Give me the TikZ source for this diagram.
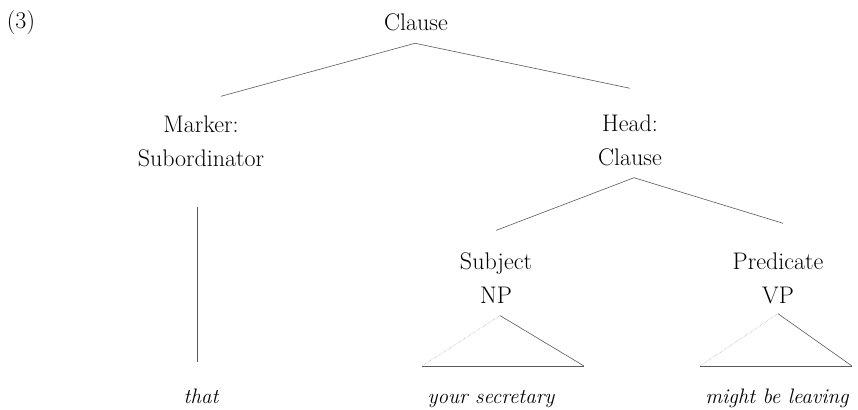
\documentclass[tikz,border=0pt]{standalone}
\usepackage{tikz}
\usetikzlibrary{positioning}

\begin{document}
\begin{tikzpicture}[x=1pt,y=-1pt,
  every node/.style={inner sep=0pt, align=center, font=\fontsize{24}{34}\selectfont},
  leaf/.style={anchor=base, font=\fontsize{21}{26}\selectfont\itshape},
  branch/.style={draw=black!65, line width=.6pt},
  faint/.style={draw=black!35, line width=.5pt, densely dotted}]
  \useasboundingbox (0,0) rectangle (858,409);

  \node (ex)        at (21,22.5)  {(3)};
  \node (top)       at (416,22.5) {Clause};
  \node (marker)    at (201,141)  {Marker:\\Subordinator};
  \node (head)      at (630,140)  {Head:\\Clause};
  \node (subject)   at (496,278)  {Subject\\NP};
  \node (predicate) at (778,278)  {Predicate\\VP};
  \node[leaf] (that)      at (201,403) {that};
  \node[leaf] (secretary) at (491,403) {your secretary};
  \node[leaf] (leaving)   at (777,403) {might be leaving};

  \path[branch]
   ([xshift=-1,yshift=-12]top.south) edge ([xshift=20,yshift=19]marker.north)
   ([xshift=-1,yshift=-12]top.south) edge ([yshift=26]head.north)
   ([xshift=-4,yshift=-40]marker.south) edge ([xshift=-4,yshift=41]that.base)
   ([xshift=4,yshift=-12]head.south) edge ([yshift=22]subject.north)
   ([xshift=4,yshift=-12]head.south) edge ([xshift=5,yshift=29]predicate.north)
   % triangles
   ([xshift=4,yshift=-12]subject.south) edge ([xshift=93,yshift=37]secretary.base)
   ([xshift=-69,yshift=37]secretary.base) edge ([xshift=93,yshift=37]secretary.base)
   ([yshift=-10]predicate.south) edge ([xshift=75,yshift=37]leaving.base)
   ([xshift=-77,yshift=37]leaving.base) edge ([xshift=75,yshift=37]leaving.base);
  \path[faint]
   ([xshift=4,yshift=-12]subject.south) edge ([xshift=-69,yshift=37]secretary.base)
   ([yshift=-10]predicate.south) edge ([xshift=-77,yshift=37]leaving.base);
\end{tikzpicture}
\end{document}
